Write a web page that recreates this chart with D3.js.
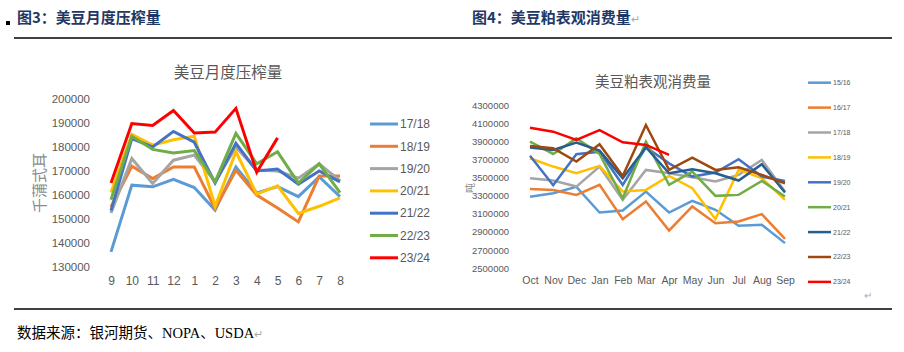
<!DOCTYPE html>
<html>
<head>
<meta charset="utf-8">
<script src="https://cdn.jsdelivr.net/npm/d3@7"></script>
<style>
  body { margin: 0; background: #fff; }
  svg { display: block; }
</style>
</head>
<body>
<script>
// ---- data: left chart (monthly crush, 千蒲式耳) ----
const crushMonths = ["9", "10", "11", "12", "1", "2", "3", "4", "5", "6", "7", "8"];
const crushSeasons = ["17/18", "18/19", "19/20", "20/21", "21/22", "22/23", "23/24"];
const crush1718 = [136300, 164100, 163400, 166500, 163100, 153700, 171700, 160900, 163500, 159300, 167600, 159300];
const crush1819 = [155000, 172000, 166900, 171700, 171700, 154400, 170300, 160000, 154600, 148800, 167900, 167900];
const crush1920 = [152500, 175200, 164800, 174500, 176600, 165500, 180000, 170400, 170000, 167000, 173000, 166000];
const crush2021 = [161000, 185300, 180800, 183000, 184500, 155300, 178000, 160400, 163800, 152300, 155300, 158800];
const crush2122 = [153500, 183500, 180000, 186500, 182000, 165000, 181500, 170000, 170800, 164500, 170000, 165500];
const crush2223 = [158000, 184500, 179000, 177500, 178500, 165500, 185700, 173000, 178000, 165000, 173000, 161000];
const crush2324 = [165000, 189800, 189000, 195200, 185800, 186200, 196100, 169500, 183800];
const crushTicks = [130000, 140000, 150000, 160000, 170000, 180000, 190000, 200000];

// ---- data: right chart (soymeal apparent consumption, 吨) ----
const mealMonths = ["Oct", "Nov", "Dec", "Jan", "Feb", "Mar", "Apr", "May", "Jun", "Jul", "Aug", "Sep"];
const mealSeasons = ["15/16", "16/17", "17/18", "18/19", "19/20", "20/21", "21/22", "22/23", "23/24"];
const meal1516 = [3290000, 3330000, 3400000, 3115000, 3137000, 3348000, 3115000, 3245000, 3145000, 2968000, 2979000, 2776000];
const meal1617 = [3377000, 3366000, 3311000, 3422000, 3042000, 3237000, 2916000, 3182000, 2997000, 3016000, 3097000, 2824000];
const meal1718 = [3496000, 3470000, 3403000, 3625000, 3256000, 3588000, 3551000, 3507000, 3459000, 3533000, 3699000, 3348000];
const meal1819 = [3717000, 3625000, 3551000, 3632000, 3348000, 3366000, 3521000, 3385000, 3042000, 3588000, 3496000, 3256000];
const meal1920 = [3746000, 3418000, 3761000, 3790000, 3422000, 3839000, 3661000, 3514000, 3558000, 3706000, 3514000, 3466000];
const meal2021 = [3901000, 3765000, 3938000, 3765000, 3274000, 3901000, 3422000, 3569000, 3300000, 3311000, 3466000, 3293000];
const meal2122 = [3835000, 3809000, 3890000, 3801000, 3496000, 3839000, 3551000, 3595000, 3551000, 3470000, 3650000, 3337000];
const meal2223 = [3853000, 3828000, 3680000, 3872000, 3521000, 4086000, 3588000, 3724000, 3588000, 3617000, 3533000, 3440000];
const meal2324 = [4056000, 4012000, 3920000, 4030000, 3894000, 3865000, 3754000];
const mealTicks = [2500000, 2700000, 2900000, 3100000, 3300000, 3500000, 3700000, 3900000, 4100000, 4300000];

const crushData = [crush1718, crush1819, crush1920, crush2021, crush2122, crush2223, crush2324];
const mealData = [meal1516, meal1617, meal1718, meal1819, meal1920, meal2021, meal2122, meal2223, meal2324];

const crushColors = ["#5B9BD5", "#ED7D31", "#A5A5A5", "#FFC000", "#4472C4", "#70AD47", "#FF0000"];
const mealColors = ["#5B9BD5", "#ED7D31", "#A5A5A5", "#FFC000", "#4472C4", "#70AD47", "#255E91", "#9E480E", "#FF0000"];

const W = 904, H = 352;
const cjk = "'Noto Sans CJK SC', sans-serif";
const latin = "'Liberation Sans', Arial, sans-serif";
const grey = "#595959";

const svg = d3.select("body").append("svg")
  .attr("width", W)
  .attr("height", H);

// ---- page frame: headers, rules, source ----
svg.append("rect").attr("x", 6).attr("y", 21).attr("width", 4).attr("height", 4).attr("fill", "#000");

const header = svg.append("g")
  .attr("font-family", cjk)
  .attr("font-weight", "bold")
  .attr("font-size", 15)
  .attr("fill", "#1F3864");
header.append("text").attr("x", 17).attr("y", 23).text("图3：美豆月度压榨量");
header.append("text").attr("x", 472).attr("y", 23).text("图4：美豆粕表观消费量");
svg.append("text").attr("x", 631).attr("y", 23).attr("font-family", latin)
  .attr("font-size", 11).attr("fill", "#aaa").text("↵");

svg.append("line").attr("x1", 14).attr("x2", 892).attr("y1", 38).attr("y2", 38)
  .attr("stroke", "#000").attr("stroke-width", 1.3);
svg.append("line").attr("x1", 14).attr("x2", 892).attr("y1", 309).attr("y2", 309)
  .attr("stroke", "#000").attr("stroke-width", 1.3);

const source = svg.append("text")
  .attr("x", 17).attr("y", 338)
  .attr("font-family", "'Liberation Serif', 'Noto Sans CJK SC', serif")
  .attr("font-size", 14.5)
  .attr("fill", "#000");
source.append("tspan").text("数据来源：银河期货、NOPA、USDA");
source.append("tspan").attr("fill", "#aaa").attr("font-size", 11).text("↵");

// ---- generic line chart ----
function drawChart(opt) {
  const g = svg.append("g");

  const x = d3.scalePoint().domain(opt.months).range(opt.xRange);
  const y = d3.scaleLinear().domain(opt.yDomain).range(opt.yRange);

  // title
  g.append("text")
    .attr("x", opt.titleX).attr("y", opt.titleY)
    .attr("text-anchor", "middle")
    .attr("font-family", cjk)
    .attr("font-size", opt.titleSize)
    .attr("fill", grey)
    .text(opt.title);

  // y axis
  const yAxis = g.append("g")
    .attr("transform", `translate(${opt.yLabelX},0)`)
    .call(d3.axisLeft(y).tickValues(opt.ticks).tickSize(0).tickPadding(0).tickFormat(d3.format("d")));
  yAxis.select(".domain").remove();
  yAxis.selectAll("text")
    .attr("font-family", latin)
    .attr("font-size", opt.tickSize)
    .attr("fill", grey);

  // x axis
  const xAxis = g.append("g")
    .attr("transform", `translate(0,${opt.xLabelY})`)
    .call(d3.axisBottom(x).tickSize(0).tickPadding(0));
  xAxis.select(".domain").remove();
  xAxis.selectAll("text")
    .attr("font-family", latin)
    .attr("font-size", opt.xTickSize)
    .attr("fill", grey);

  // y title
  g.append("text")
    .attr("transform", `translate(${opt.yTitleX},${opt.yTitleY}) rotate(-90)`)
    .attr("text-anchor", "middle")
    .attr("font-family", cjk)
    .attr("font-size", opt.yTitleSize)
    .attr("fill", "#8c8c8c")
    .text(opt.yTitle);

  // lines
  const line = d3.line()
    .x((d, i) => x(opt.months[i]))
    .y(d => y(d));

  g.append("g")
    .selectAll("path")
    .data(opt.series)
    .join("path")
    .attr("d", d => line(d))
    .attr("fill", "none")
    .attr("stroke", (d, i) => opt.colors[i])
    .attr("stroke-width", opt.lineWidth)
    .attr("stroke-linejoin", "miter")
    .attr("stroke-linecap", "butt");

  // legend
  const leg = g.append("g")
    .selectAll("g")
    .data(opt.seasons)
    .join("g")
    .attr("transform", (d, i) => `translate(${opt.legX},${opt.legY + i * opt.legStep})`);
  leg.append("line")
    .attr("x1", 0).attr("x2", opt.legLen)
    .attr("stroke", (d, i) => opt.colors[i])
    .attr("stroke-width", opt.legWidth);
  leg.append("text")
    .attr("x", opt.legLen + 2)
    .attr("dy", "0.35em")
    .attr("font-family", latin)
    .attr("font-size", opt.legFont)
    .attr("fill", grey)
    .text(d => d);
}

drawChart({
  months: crushMonths, seasons: crushSeasons, series: crushData, colors: crushColors,
  xRange: [111, 340], yDomain: [130000, 200000], yRange: [267, 99],
  ticks: crushTicks,
  title: "美豆月度压榨量", titleX: 228, titleY: 78, titleSize: 15.5,
  yLabelX: 90, tickSize: 11.5, xLabelY: 276, xTickSize: 12,
  yTitle: "千蒲式耳", yTitleX: 45, yTitleY: 183, yTitleSize: 15,
  lineWidth: 3,
  legX: 370, legY: 124, legStep: 22.3, legLen: 28, legWidth: 3, legFont: 12
});

drawChart({
  months: mealMonths, seasons: mealSeasons, series: mealData, colors: mealColors,
  xRange: [530, 785], yDomain: [2500000, 4300000], yRange: [268, 105.7],
  ticks: mealTicks,
  title: "美豆粕表观消费量", titleX: 653, titleY: 87, titleSize: 14.5,
  yLabelX: 509, tickSize: 9.5, xLabelY: 277, xTickSize: 10.5,
  yTitle: "吨", yTitleX: 474, yTitleY: 188, yTitleSize: 10,
  lineWidth: 2.5,
  legX: 808, legY: 82.7, legStep: 24.9, legLen: 23, legWidth: 2.5, legFont: 7
});

svg.append("text").attr("x", 864).attr("y", 299).attr("font-family", latin)
  .attr("font-size", 10).attr("fill", "#aaa").text("↵");
</script>
</body>
</html>
